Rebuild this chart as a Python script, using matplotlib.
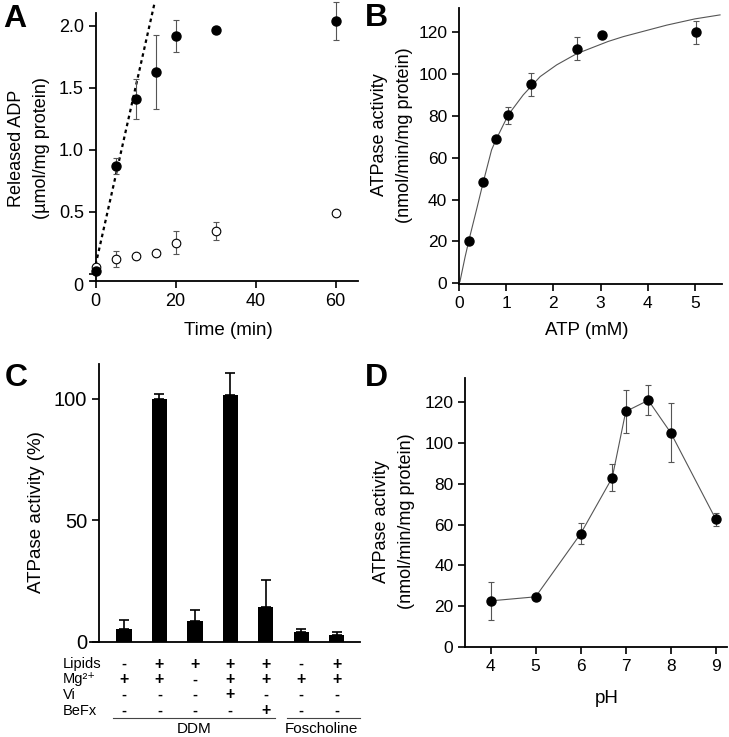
import matplotlib
matplotlib.use("Agg")
import matplotlib.pyplot as plt
import matplotlib.transforms as mtransforms
from matplotlib.lines import Line2D

plt.rcParams['font.family'] = ['Liberation Sans', 'DejaVu Sans']

# ---------------- data ----------------
# Panel A
a_time = [0, 5, 10, 15, 20, 30, 60]
a_filled = [0.02, 0.87, 1.41, 1.63, 1.92, 1.965, 2.04]
a_filled_err = [0.0, 0.065, 0.16, 0.30, 0.13, 0.02, 0.15]
a_open = [0.05, 0.115, 0.14, 0.17, 0.25, 0.345, 0.49]
a_open_err = [0.0, 0.065, 0.02, 0.01, 0.09, 0.07, 0.0]
a_fit_t = [0.0, 14.7]
a_fit_y = [0.07, 2.18]
a_yticks = [0, 0.5, 1.0, 1.5, 2.0]
a_yticklabels = ['0', '0.5', '1.0', '1.5', '2.0']
a_xticks = [0, 20, 40, 60]

# Panel B
b_atp = [0.205, 0.515, 0.78, 1.03, 1.525, 2.51, 3.02, 5.01]
b_act = [20.4, 48.3, 69.1, 80.3, 95.1, 112.2, 118.6, 120.0]
b_err = [0.0, 0.0, 0.0, 4.0, 5.7, 5.4, 0.0, 5.6]
b_curve_x = [0.02, 0.13, 0.22, 0.38, 0.515, 0.69, 0.78, 1.045, 1.36, 1.72,
             2.07, 2.49, 3.16, 3.48, 4.4, 5.0, 5.53]
b_curve_y = [0.8, 12.7, 21.5, 36.0, 48.5, 63.8, 68.5, 80.6, 90.1, 98.9,
             104.5, 109.8, 115.7, 118.0, 123.5, 126.5, 128.4]
b_yticks = [0, 20, 40, 60, 80, 100, 120]
b_xticks = [0, 1, 2, 3, 4, 5]

# Panel C
c_values = [5.4, 100.0, 8.4, 101.6, 14.1, 4.1, 2.6]
c_err = [3.5, 2.2, 4.5, 9.0, 11.3, 1.0, 1.5]
c_rows = ['Lipids', 'Mg²⁺', 'Vi', 'BeFx']
c_lipids = ['-', '+', '+', '+', '+', '-', '+']
c_mg = ['+', '+', '-', '+', '+', '+', '+']
c_vi = ['-', '-', '-', '+', '-', '-', '-']
c_befx = ['-', '-', '-', '-', '+', '-', '-']
c_groups = ['DDM', 'Foscholine']
c_yticks = [0, 50, 100]

# Panel D
d_ph = [4.0, 5.0, 6.0, 6.7, 7.0, 7.5, 8.0, 9.0]
d_act = [22.5, 24.5, 55.5, 83.0, 115.5, 121.0, 105.0, 62.5]
d_err = [9.3, 0.0, 5.0, 6.6, 10.7, 7.3, 14.5, 3.3]
d_yticks = [0, 20, 40, 60, 80, 100, 120]
d_xticks = [4, 5, 6, 7, 8, 9]

# ---------------- figure ----------------
W, H = 729, 737
fig = plt.figure(figsize=(W / 100, H / 100), dpi=100)

LABEL_FS = 13


def px_axes(left, top, right, bottom):
    return fig.add_axes([left / W, 1 - bottom / H, (right - left) / W, (bottom - top) / H])


def style(ax, lw=1.3):
    for s in ['top', 'right']:
        ax.spines[s].set_visible(False)
    for s in ['left', 'bottom']:
        ax.spines[s].set_linewidth(lw)
    ax.tick_params(direction='out', width=1.2, length=5, color='black')


# ---- A ----
axA = px_axes(90, 0, 358, 281)
style(axA)
axA.set_xlim(-1.4, 65.6)
axA.set_ylim(-0.06, 2.21)
axA.spines['left'].set_position(('data', 0))
axA.spines['left'].set_bounds(-0.06, 2.105)
axA.plot(a_fit_t, a_fit_y, color='black', lw=1.6, ls=(0, (1.6, 1.6)), clip_on=False, zorder=2)
axA.errorbar(a_time, a_open, yerr=a_open_err, fmt='o', ms=6.2, mfc='white', mec='black',
             mew=0.8, ecolor='#555555', elinewidth=0.8, capsize=2.5, capthick=0.8,
             clip_on=False, zorder=3)
axA.errorbar(a_time, a_filled, yerr=a_filled_err, fmt='o', ms=6.5, mfc='black', mec='black',
             ecolor='#555555', elinewidth=0.8, capsize=2.5, capthick=0.8,
             clip_on=False, zorder=4)
axA.set_yticks(a_yticks)
axA.set_yticklabels(a_yticklabels)
axA.set_xticks(a_xticks)
axA.tick_params(labelsize=13)
lab0 = axA.get_yticklabels()[0]
lab0.set_transform(lab0.get_transform() + mtransforms.ScaledTranslation(0, -11 / 100, fig.dpi_scale_trans))
axA.set_ylabel('Released ADP\n(µmol/mg protein)', fontsize=LABEL_FS, linespacing=1.6)
axA.yaxis.set_label_coords(-0.149, 0.473)
axA.set_xlabel('Time (min)', fontsize=LABEL_FS + 0.5)
axA.xaxis.set_label_coords(0.515, -0.145)

# ---- B ----
axB = px_axes(459, 8, 721.7, 284.3)
style(axB)
axB.set_xlim(0, 5.565)
axB.set_ylim(-0.5, 131.7)
axB.plot(b_curve_x, b_curve_y, color='#555555', lw=0.8, zorder=2)
axB.errorbar(b_atp, b_act, yerr=b_err, fmt='o', ms=6.5, mfc='black', mec='black',
             ecolor='#555555', elinewidth=0.8, capsize=2.5, capthick=0.8,
             clip_on=False, zorder=3)
axB.set_yticks(b_yticks)
axB.set_xticks(b_xticks)
axB.tick_params(labelsize=12.5)
axB.set_ylabel('ATPase activity\n(nmol/min/mg protein)', fontsize=LABEL_FS, linespacing=1.6)
axB.yaxis.set_label_coords(-0.175, 0.54)
axB.set_xlabel('ATP (mM)', fontsize=LABEL_FS + 0.5)
axB.xaxis.set_label_coords(0.486, -0.135)

# ---- C ----
axC = px_axes(90, 364, 360, 641.7)
style(axC)
pos = list(range(len(c_values)))
axC.set_xlim(-0.96, 6.66)
axC.set_ylim(0, 114.4)
axC.spines['left'].set_position(('data', -0.705))
axC.bar(pos, c_values, width=0.43, color='black', zorder=2)
axC.errorbar(pos, c_values, yerr=[[0] * len(c_err), c_err], fmt='none', ecolor='black',
             elinewidth=1.2, capsize=3.5, capthick=1.2, zorder=3)
axC.set_yticks(c_yticks)
axC.set_xticks([])
axC.tick_params(axis='y', labelsize=14.5)
axC.set_ylabel('ATPase activity (%)', fontsize=LABEL_FS + 0.5)
axC.yaxis.set_label_coords(-0.167, 0.467)

trC = mtransforms.blended_transform_factory(axC.transData, fig.transFigure)
row_y = [664, 679.3, 695, 710.7]
table = [c_lipids, c_mg, c_vi, c_befx]
for name, yy, row in zip(c_rows, row_y, table):
    fig.text(63 / W, 1 - yy / H, name, ha='left', va='center', fontsize=10.5)
    for p, sym in zip(pos, row):
        if sym == '+':
            fig.text(p, 1 - yy / H, sym, transform=trC, ha='center', va='center',
                     fontsize=11.5, fontweight='bold')
        else:
            fig.text(p, 1 - yy / H, sym, transform=trC, ha='center', va='center',
                     fontsize=10.5, fontweight='bold')
line_y = 1 - 718.3 / H
group_spans = [(-0.31, 4.26), (4.6, 6.66)]
for (x0, x1), g in zip(group_spans, c_groups):
    fig.add_artist(Line2D([x0, x1], [line_y, line_y], transform=trC, color='#444444', lw=0.8))
    fig.text((x0 + x1) / 2 + (0.0 if g == 'DDM' else -0.05), 1 - 729 / H, g, transform=trC,
             ha='center', va='center', fontsize=11)

# ---- D ----
axD = px_axes(465.3, 378.3, 726.7, 646.7)
style(axD)
axD.set_xlim(3.44, 9.24)
axD.set_ylim(0, 131.8)
axD.plot(d_ph, d_act, color='#555555', lw=0.8, zorder=2)
axD.errorbar(d_ph, d_act, yerr=d_err, fmt='o', ms=6.5, mfc='black', mec='black',
             ecolor='#555555', elinewidth=0.8, capsize=2.5, capthick=0.8,
             clip_on=False, zorder=3)
axD.set_yticks(d_yticks)
axD.set_xticks(d_xticks)
axD.tick_params(labelsize=12.5)
axD.set_ylabel('ATPase activity\n(nmol/min/mg protein)', fontsize=LABEL_FS, linespacing=1.6)
axD.yaxis.set_label_coords(-0.192, 0.466)
axD.set_xlabel('pH', fontsize=LABEL_FS + 0.5)
axD.xaxis.set_label_coords(0.541, -0.161)

# ---- panel letters ----
for letter, x, y in [('A', 15, 19), ('B', 376, 17.5), ('C', 16, 377.5), ('D', 376, 377.5)]:
    fig.text(x / W, 1 - y / H, letter, ha='center', va='center', fontsize=23, fontweight='bold')

fig.savefig('out.png', dpi=100)
